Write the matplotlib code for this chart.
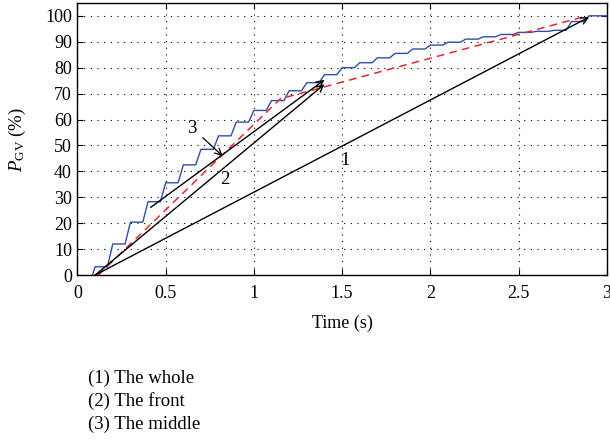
import matplotlib
matplotlib.use('Agg')
import matplotlib.pyplot as plt
import numpy as np

plt.rcParams['font.family'] = 'Liberation Serif'
plt.rcParams['mathtext.fontset'] = 'custom'
plt.rcParams['mathtext.rm'] = 'Liberation Serif'
plt.rcParams['mathtext.it'] = 'Liberation Serif:italic'

# blue staircase: step times and levels reached at those times
step_t = [0.1, 0.2, 0.3, 0.4, 0.5, 0.6, 0.7, 0.8, 0.9, 1.0,
          1.1, 1.2, 1.3, 1.4, 1.5, 1.6, 1.7, 1.8, 1.9, 2.0,
          2.1, 2.2, 2.3, 2.4, 2.5, 2.6, 2.7, 2.8, 2.9]
step_v = [3.2, 12.0, 20.4, 28.3, 35.6, 42.5, 48.5, 53.7, 59.0, 63.5,
          67.3, 71.1, 74.2, 77.3, 80.0, 81.9, 83.8, 85.5, 87.2, 88.7,
          89.8, 91.0, 91.9, 92.8, 93.6, 94.0, 94.4, 97.8, 100.0]
start_t = 0.085
end_t = 3.0
rise = 0.03

# red dashed reference curve
red_t = [0.118, 1.15, 2.89]
red_v = [0.0, 68.0, 100.0]

# black arrows: (start, end)
arrows = {
    '1': ((0.1, 0.0), (2.9, 99.5)),
    '2': ((0.1, 0.0), (1.40, 73.6)),
    '3': ((0.415, 26.1), (1.40, 75.3)),
}
labels = {'1': (1.515, 44.0), '2': (0.836, 37.0), '3': (0.65, 56.5)}
pointer3 = (0.823, 45.9)

legend_lines = ['(1) The whole', '(2) The front', '(3) The middle']

bt = [start_t]
bv = [0.0]
prev = 0.0
for s, v in zip(step_t, step_v):
    if s - rise > bt[-1]:
        bt.append(s - rise)
        bv.append(prev)
    bt.append(s)
    bv.append(v)
    prev = v
bt.append(end_t)
bv.append(prev)

fig = plt.figure(figsize=(6.1, 4.48), dpi=100)
ax = fig.add_axes([0.127, 0.386, 0.8677, 0.6065])

ax.plot(bt, bv, color='#2f4fa6', lw=1.0)
ax.plot(red_t, red_v, color='#e8262c', lw=1.1, dashes=(5, 3.5))

for k, (a, b) in arrows.items():
    ax.annotate('', xy=b, xytext=a,
                arrowprops=dict(arrowstyle='->', color='black', lw=1.0,
                                shrinkA=0, shrinkB=0, mutation_scale=12))
for k, (x, y) in labels.items():
    ax.text(x, y, k, fontsize=13.5, ha='center', va='center')
ax.annotate('', xy=pointer3, xytext=(0.71, 53.0),
            arrowprops=dict(arrowstyle='->', color='black', lw=0.9,
                            shrinkA=0, shrinkB=0, mutation_scale=12))

ax.set_xlim(0, 3)
ax.set_ylim(0, 104.8)
ax.set_xticks(np.arange(0, 3.01, 0.5))
ax.set_xticklabels(['0', '0.5', '1', '1.5', '2', '2.5', '3'])
ax.set_yticks(np.arange(0, 101, 10))
ax.grid(True, color='black', linestyle=(0, (1, 5)), lw=0.8)
ax.tick_params(direction='in', top=True, right=True, labelsize=13, length=4)
ax.tick_params(axis='x', pad=7)
ax.tick_params(axis='y', pad=4)
for sp in ax.spines.values():
    sp.set_linewidth(1.0)

ax.set_xlabel('Time (s)', fontsize=13, labelpad=9)
ax.set_ylabel(r'$P_{\mathrm{GV}}$ (%)', fontsize=13.5, labelpad=12)

for i, s in enumerate(legend_lines):
    fig.text(88 / 610, 1 - (378 + 23 * i) / 448, s, fontsize=13.5, va='center')

fig.savefig('out.png', dpi=100)
